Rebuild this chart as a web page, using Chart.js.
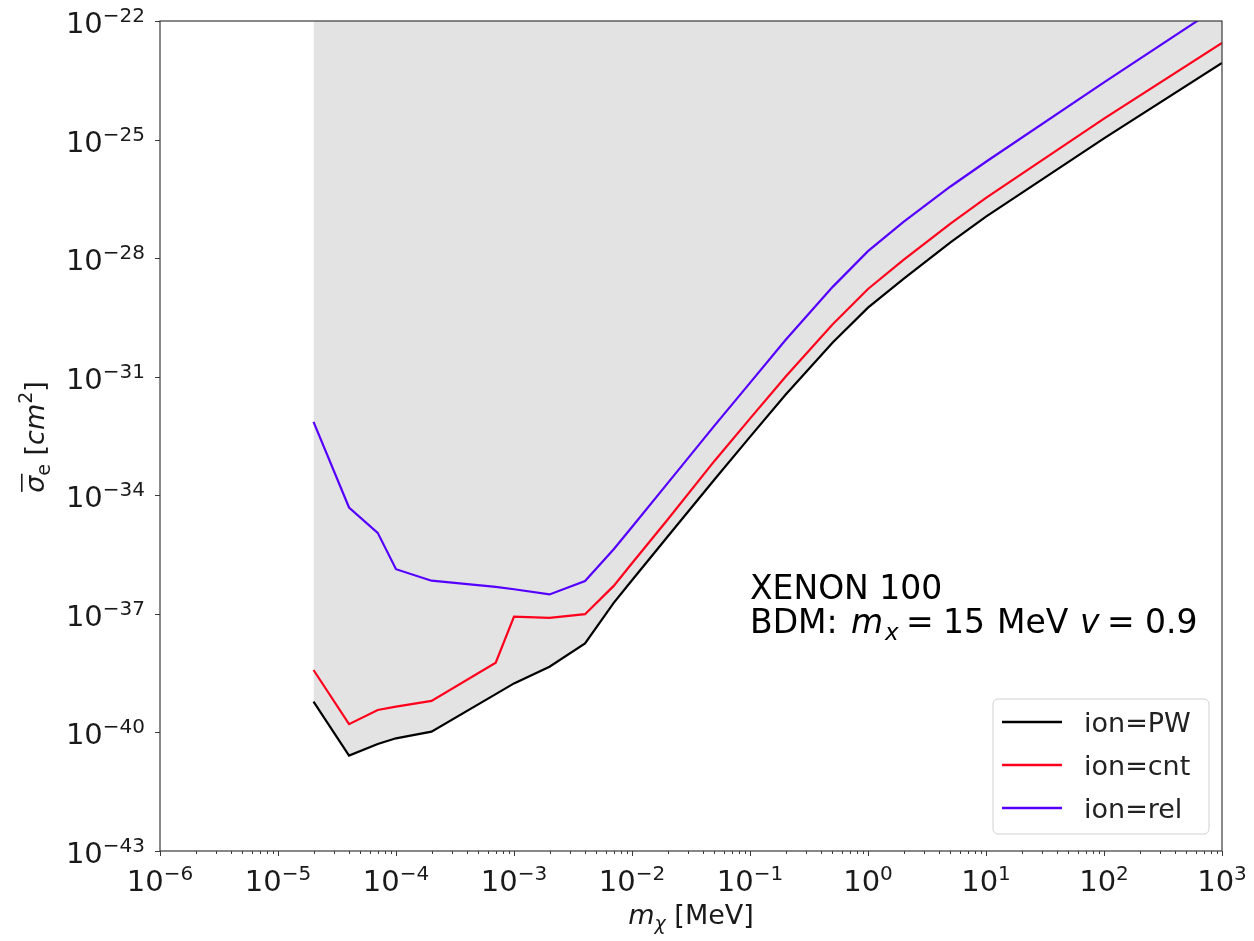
<!DOCTYPE html>
<html>
<head>
<meta charset="utf-8">
<script src="https://cdn.jsdelivr.net/npm/chart.js@4.4.1/dist/chart.umd.min.js"></script>
<style>
  html, body { margin: 0; padding: 0; background: #ffffff; }
  #wrap { width: 1254px; height: 941px; }
</style>
</head>
<body>
<div id="wrap"><canvas id="c" width="1254" height="941"></canvas></div>
<script>
// ---- data ----
const massMeV = [2e-5, 4e-5, 7e-5, 1e-4, 2e-4, 7e-4, 1e-3, 2e-3, 4e-3, 7e-3, 1e-2, 2e-2, 5e-2, 1e-1, 2e-1, 5e-1, 1, 2, 5, 10, 100, 1000];
const sigmaPW  = [6.0e-40, 2.6e-41, 5.1e-41, 7.1e-41, 1.05e-40, 9.3e-40, 1.74e-39, 4.6e-39, 1.78e-38, 1.9e-37, 7.1e-37, 8.9e-36, 2.5e-34, 3.0e-33, 3.5e-32, 7.2e-31, 5.6e-30, 3.0e-29, 2.5e-28, 1.12e-27, 1.07e-25, 8.7e-24];
const sigmaCnt = [3.8e-39, 1.62e-40, 3.7e-40, 4.5e-40, 6.3e-40, 5.8e-39, 8.5e-38, 7.9e-38, 9.8e-38, 5.1e-37, 1.9e-36, 2.4e-35, 7.4e-34, 8.7e-33, 1.0e-31, 2.1e-30, 1.66e-29, 9.0e-29, 7.5e-28, 3.35e-27, 3.4e-25, 2.8e-23];
const sigmaRel = [7.2e-33, 4.9e-35, 1.12e-35, 1.35e-36, 6.9e-37, 4.8e-37, 4.2e-37, 3.1e-37, 6.8e-37, 4.3e-36, 1.58e-35, 2.0e-34, 5.8e-33, 7.0e-32, 8.5e-31, 1.85e-29, 1.5e-28, 8.3e-28, 6.5e-27, 2.75e-26, 2.8e-24, 2.6e-22];
const seriesLabels = ['ion=PW', 'ion=cnt', 'ion=rel'];
const xTickExps = [-6, -5, -4, -3, -2, -1, 0, 1, 2, 3];
const yTickExps = [-22, -25, -28, -31, -34, -37, -40, -43];
const annotationLine1 = 'XENON 100';

const COLORS = ['#000000', 'rgb(255,0,28)', 'rgb(85,0,255)'];
const SHADE = '#e3e3e3';
const FONT = 'DejaVu Sans';

function toPts(ys) { return massMeV.map((m, i) => ({ x: m, y: ys[i] })); }

function expStr(k) { return k < 0 ? '\u2212' + Math.abs(k) : String(k); }

function drawRich(ctx, segs, x, y, align) {
  let total = 0;
  segs.forEach(s => { ctx.font = s.f; s.w = ctx.measureText(s.t).width; total += s.w + (s.gap || 0); });
  let cx = align === 'center' ? x - total / 2 : (align === 'right' ? x - total : x);
  const spans = [];
  segs.forEach(s => {
    ctx.font = s.f;
    ctx.textAlign = 'left';
    ctx.textBaseline = 'alphabetic';
    const sx = (s.at !== undefined) ? s.at : cx;
    ctx.fillText(s.t, sx, y + (s.dy || 0));
    spans.push({ x0: sx, x1: sx + s.w });
    cx = sx + s.w + (s.gap || 0);
  });
  return spans;
}

const decorations = {
  id: 'decorations',
  afterDatasetsDraw(chart) {
    const ctx = chart.ctx;
    const a = chart.chartArea;
    const xs = chart.scales.x, ys = chart.scales.y;
    ctx.save();
    // frame
    ctx.strokeStyle = '#3a3a3a';
    ctx.lineWidth = 1.2;
    ctx.strokeRect(a.left, a.top, a.right - a.left, a.bottom - a.top);
    // x ticks
    ctx.lineWidth = 1;
    ctx.strokeStyle = '#3a3a3a';
    ctx.fillStyle = '#1a1a1a';
    for (let k = -6; k <= 3; k++) {
      for (let m = 1; m <= 9; m++) {
        const v = m * Math.pow(10, k);
        if (v > 1000.0001) break;
        const px = Math.round(xs.getPixelForValue(v)) + 0.5;
        const len = m === 1 ? 5 : 3;
        ctx.beginPath(); ctx.moveTo(px, a.bottom); ctx.lineTo(px, a.bottom + len); ctx.stroke();
      }
    }
    xTickExps.forEach(k => {
      const px = xs.getPixelForValue(Math.pow(10, k));
      drawRich(ctx, [
        { t: '10', f: `29px ${FONT}` },
        { t: expStr(k), f: `20px ${FONT}`, dy: -11 }
      ], px, a.bottom + 40, 'center');
    });
    // y ticks
    yTickExps.forEach(k => {
      const py = Math.round(ys.getPixelForValue(Math.pow(10, k))) + 0.5;
      ctx.beginPath(); ctx.moveTo(a.left - 5, py); ctx.lineTo(a.left, py); ctx.stroke();
      drawRich(ctx, [
        { t: '10', f: `29px ${FONT}` },
        { t: expStr(k), f: `20px ${FONT}`, dy: -11 }
      ], a.left - 15, py + 11, 'right');
    });
    // x axis title: m_chi [MeV]
    drawRich(ctx, [
      { t: 'm', f: `italic 27px ${FONT}` },
      { t: '\u03c7', f: `italic 19px ${FONT}`, dy: 6 },
      { t: ' [MeV]', f: `27px ${FONT}` }
    ], 691, 924, 'center');
    // y axis title: overline sigma_e [cm^2]
    ctx.save();
    ctx.translate(44, 437);
    ctx.rotate(-Math.PI / 2);
    const sp = drawRich(ctx, [
      { t: '\u03c3', f: `italic 27px ${FONT}` },
      { t: 'e', f: `19px ${FONT}`, dy: 6 },
      { t: ' [', f: `27px ${FONT}` },
      { t: 'cm', f: `italic 27px ${FONT}` },
      { t: '2', f: `19px ${FONT}`, dy: -12 },
      { t: ']', f: `27px ${FONT}` }
    ], 0, 0, 'center');
    ctx.fillRect(sp[0].x0 + 1, -23, sp[0].x1 - sp[0].x0 + 1, 1.6);
    ctx.restore();
    // annotation
    ctx.fillStyle = '#000';
    drawRich(ctx, [{ t: annotationLine1, f: `33px ${FONT}` }], 750, 599, 'left');
    drawRich(ctx, [
      { t: 'BDM:', f: `33px ${FONT}`, at: 750 },
      { t: 'm', f: `italic 33px ${FONT}`, at: 851 },
      { t: 'x', f: `italic 23px ${FONT}`, dy: 7, at: 885 },
      { t: '=', f: `33px ${FONT}`, at: 906 },
      { t: '15', f: `33px ${FONT}`, at: 943 },
      { t: 'MeV', f: `33px ${FONT}`, at: 997 },
      { t: 'v', f: `italic 33px ${FONT}`, at: 1080 },
      { t: '=', f: `33px ${FONT}`, at: 1107 },
      { t: '0.9', f: `33px ${FONT}`, at: 1145 }
    ], 750, 633, 'left');
    // legend
    const lx = 993, ly = 699, lw = 216, lh = 135;
    ctx.beginPath();
    ctx.roundRect(lx, ly, lw, lh, 5);
    ctx.fillStyle = 'rgba(255,255,255,0.85)';
    ctx.fill();
    ctx.strokeStyle = '#d0d0d0';
    ctx.lineWidth = 1;
    ctx.stroke();
    chart.data.datasets.forEach((ds, i) => {
      const yy = 722 + i * 43;
      ctx.strokeStyle = ds.borderColor;
      ctx.lineWidth = 2.5;
      ctx.beginPath(); ctx.moveTo(1002, yy); ctx.lineTo(1062, yy); ctx.stroke();
      ctx.fillStyle = '#222';
      ctx.font = `27px ${FONT}`;
      ctx.textAlign = 'left';
      ctx.textBaseline = 'alphabetic';
      ctx.fillText(ds.label, 1084, yy + 10);
    });
    ctx.restore();
  }
};

new Chart(document.getElementById('c'), {
  type: 'line',
  data: {
    datasets: [
      { label: seriesLabels[0], data: toPts(sigmaPW), borderColor: COLORS[0], backgroundColor: SHADE, fill: 'end', borderWidth: 2.2, pointRadius: 0, tension: 0 },
      { label: seriesLabels[1], data: toPts(sigmaCnt), borderColor: COLORS[1], fill: false, borderWidth: 2.2, pointRadius: 0, tension: 0 },
      { label: seriesLabels[2], data: toPts(sigmaRel), borderColor: COLORS[2], fill: false, borderWidth: 2.2, pointRadius: 0, tension: 0 }
    ]
  },
  options: {
    responsive: false,
    animation: false,
    devicePixelRatio: 1,
    layout: { padding: { left: 160, top: 21, right: 32, bottom: 90 } },
    plugins: {
      legend: { display: false },
      tooltip: { enabled: false },
      filler: { drawTime: 'beforeDatasetsDraw' }
    },
    scales: {
      x: {
        type: 'logarithmic', min: 1e-6, max: 1e3,
        grid: { display: false, drawTicks: false }, border: { display: false },
        ticks: { display: false }
      },
      y: {
        type: 'logarithmic', min: 1e-43, max: 1e-22,
        grid: { display: false, drawTicks: false }, border: { display: false },
        ticks: { display: false }
      }
    }
  },
  plugins: [decorations]
});
</script>
</body>
</html>
